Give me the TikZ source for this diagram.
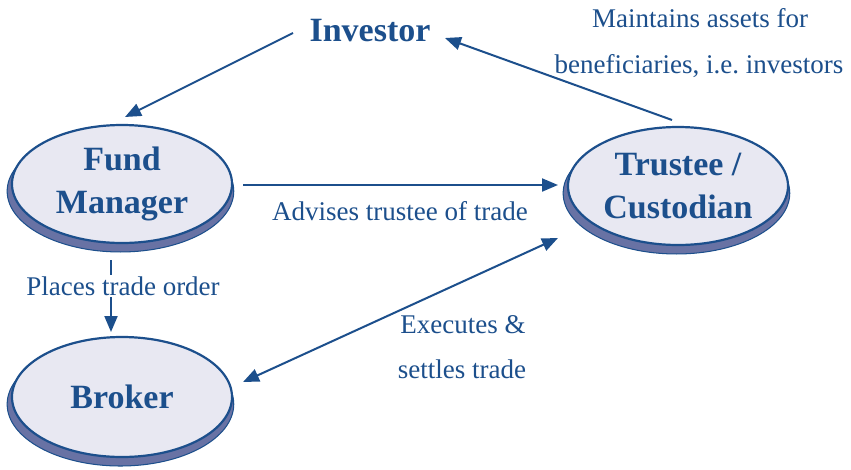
\documentclass[tikz,border=0pt]{standalone}
\usepackage{fontspec}
\setmainfont{Liberation Serif}
\usetikzlibrary{shapes.geometric,arrows.meta,shadows}
\definecolor{navy}{HTML}{1C4F8C}
\definecolor{lav}{HTML}{E8E8F2}
\definecolor{shd}{HTML}{6872A4}
\begin{document}
\begin{tikzpicture}[x=1pt,y=-1pt,
  party/.style={ellipse, draw=navy, line width=2.2pt, fill=lav,
    minimum width=220pt, minimum height=118pt, inner sep=0pt, align=center,
    text=navy, font=\bfseries\fontsize{34}{43}\selectfont,
    general shadow={fill=shd, draw=navy, line width=1pt, shadow xshift=-1.5pt, shadow yshift=-7pt, shadow scale=1.03}},
  title/.style={text=navy, font=\bfseries\fontsize{34}{40}\selectfont, inner sep=0pt},
  lbl/.style={text=navy, font=\fontsize{27}{45}\selectfont, inner sep=0pt, align=center},
  conn/.style={draw=navy, line width=2pt, -{Triangle[length=16pt,width=13pt]}},
  conn2/.style={draw=navy, line width=2pt, {Triangle[length=16pt,width=13pt]}-{Triangle[length=16pt,width=13pt]}}]
\useasboundingbox (0,0) rectangle (851,469);
\fill[white] (0,0) rectangle (851,469);

% nodes
\node[party] (fm) at (122,184) {Fund\\Manager};
\node[party] (tc) at (678,186) {Trustee /\\Custodian};
\node[party, minimum height=120pt] (br) at (122,397) {Broker};
\node[title, anchor=base] (inv) at (370,41) {Investor};

% connector end points
\coordinate (inv-out) at (293,33);
\coordinate (fm-in) at (125,117);
\coordinate (fm-out) at (243,185);
\coordinate (tc-in) at (558,185);
\coordinate (fm-down) at (111,260);
\coordinate (br-in) at (111,332);
\coordinate (br-side) at (243,382);
\coordinate (tc-side) at (558,238);
\coordinate (tc-top) at (672,120);
\coordinate (inv-in) at (445,38);

% connectors
\draw[conn] (inv-out) -- (fm-in);
\draw[conn] (fm-out) -- (tc-in);
\draw[conn] (fm-down) -- (br-in);
\draw[conn2] (br-side) -- (tc-side);
\draw[conn] (tc-top) -- (inv-in);

% labels
\node[lbl, anchor=base] (lm1) at (700,27) {Maintains assets for};
\node[lbl, anchor=base] (lm2) at (699,73) {beneficiaries, i.e.\ investors};
\node[lbl, anchor=base] (ladv) at (400,220) {Advises trustee of trade};
\node[lbl, anchor=base, fill=white, inner sep=1.5pt] (lpl) at (123,295) {Places trade order};
\node[lbl, anchor=base] (lex1) at (463,333) {Executes \&};
\node[lbl, anchor=base] (lex2) at (462,378) {settles trade};
\end{tikzpicture}
\end{document}
